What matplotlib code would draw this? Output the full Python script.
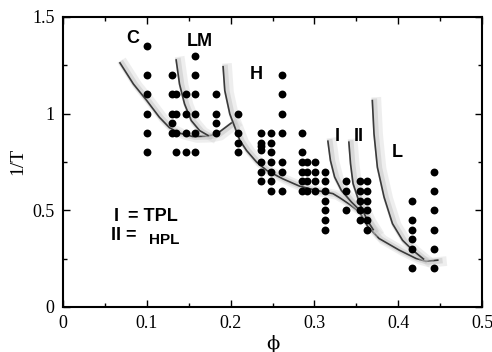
import matplotlib
matplotlib.use("Agg")
import matplotlib.pyplot as plt
import matplotlib.patheffects as pe
from matplotlib.ticker import MultipleLocator

# simulation state points, grouped by volume fraction column
phi_cols = [0.100, 0.130, 0.135, 0.147, 0.157, 0.182, 0.209, 0.236, 0.248, 0.261,
            0.285, 0.291, 0.301, 0.312, 0.338, 0.354, 0.363, 0.416, 0.442]
invT_cols = [
    [0.8, 0.9, 1.0, 1.1, 1.2, 1.35],
    [0.9, 0.95, 1.0, 1.1, 1.2],
    [0.8, 0.9, 1.0, 1.1],
    [0.8, 0.9, 1.0, 1.1],
    [0.8, 0.9, 1.0, 1.1, 1.2, 1.3],
    [0.9, 0.95, 1.0, 1.1],
    [0.8, 0.85, 0.9, 1.0],
    [0.65, 0.7, 0.75, 0.81, 0.83, 0.85, 0.9],
    [0.6, 0.65, 0.7, 0.75, 0.8, 0.85, 0.9],
    [0.6, 0.7, 0.75, 0.9, 1.0, 1.1, 1.2],
    [0.6, 0.65, 0.7, 0.75, 0.8, 0.9],
    [0.6, 0.65, 0.7, 0.75],
    [0.6, 0.65, 0.7, 0.75],
    [0.4, 0.45, 0.5, 0.55, 0.6, 0.65, 0.7],
    [0.5, 0.6, 0.65],
    [0.45, 0.5, 0.55, 0.6, 0.65],
    [0.4, 0.45, 0.5, 0.55, 0.6, 0.65],
    [0.2, 0.3, 0.35, 0.4, 0.45, 0.55],
    [0.2, 0.3, 0.4, 0.5, 0.6, 0.7],
]

# phase boundaries
c_phi = [0.068, 0.084, 0.100, 0.115, 0.127, 0.139, 0.155, 0.171, 0.183, 0.201]
c_invT = [1.262, 1.153, 1.067, 0.981, 0.927, 0.899, 0.881, 0.883, 0.893, 0.952]
lm_phi = [0.135, 0.139, 0.145, 0.153, 0.163, 0.173]
lm_invT = [1.277, 1.153, 1.050, 0.964, 0.912, 0.887]
h_phi = [0.191, 0.193, 0.199, 0.211, 0.219, 0.231, 0.243, 0.262, 0.282, 0.302,
         0.322, 0.330, 0.342, 0.354, 0.363, 0.377, 0.401, 0.421, 0.433, 0.447]
h_invT = [1.242, 1.119, 0.998, 0.861, 0.809, 0.749, 0.706, 0.663, 0.625, 0.603,
          0.586, 0.565, 0.530, 0.490, 0.420, 0.354, 0.294, 0.251, 0.236, 0.242]
i_phi = [0.316, 0.319, 0.324, 0.332, 0.344, 0.354]
i_invT = [0.857, 0.758, 0.672, 0.603, 0.543, 0.500]
ii_phi = [0.341, 0.343, 0.346, 0.354, 0.363, 0.370]
ii_invT = [0.852, 0.741, 0.638, 0.534, 0.448, 0.400]
l_phi = [0.369, 0.371, 0.375, 0.383, 0.393, 0.405, 0.417, 0.430]
l_invT = [1.067, 0.895, 0.723, 0.568, 0.431, 0.345, 0.294, 0.248]

xs, ys = [], []
for p, col in zip(phi_cols, invT_cols):
    xs += [p] * len(col)
    ys += col

fig = plt.figure(figsize=(4.92, 3.52), dpi=100)
ax = fig.add_axes([0.128, 0.128, 0.852, 0.824])

# soft grey halo, mostly to the right of each boundary
shadow = [pe.SimpleLineShadow(offset=(3, -1), shadow_color="0.82", alpha=0.35, linewidth=7),
          pe.SimpleLineShadow(offset=(1.5, -0.5), shadow_color="0.75", alpha=0.45, linewidth=4),
          pe.Normal()]
for px, py in [(c_phi, c_invT), (lm_phi, lm_invT), (h_phi, h_invT),
               (i_phi, i_invT), (ii_phi, ii_invT), (l_phi, l_invT)]:
    ax.plot(px, py, color="#3a3a3a", lw=1.2, path_effects=shadow, zorder=2)

ax.scatter(xs, ys, s=32, color="black", zorder=3, linewidths=0)

lab = dict(family="Liberation Sans", weight="bold", fontsize=13, ha="center", va="center")
ax.text(0.083, 1.39, "C", **lab)
ax.text(0.163, 1.375, "LM", **lab)
ax.text(0.230, 1.20, "H", **lab)
ax.text(0.327, 0.88, "I", **lab)
ax.text(0.353, 0.88, "II", **lab)
ax.text(0.399, 0.80, "L", **lab)

leg = dict(family="Liberation Sans", weight="bold", va="center")
ax.text(0.060, 0.47, "I", fontsize=13, **leg)
ax.text(0.077, 0.47, "= TPL", fontsize=13, **leg)
ax.text(0.057, 0.37, "II =", fontsize=13, **leg)
ax.text(0.103, 0.345, "HPL", fontsize=11, **leg)

ax.set_xlim(0, 0.5)
ax.set_ylim(0, 1.5)
ax.xaxis.set_major_locator(MultipleLocator(0.1))
ax.xaxis.set_minor_locator(MultipleLocator(0.05))
ax.yaxis.set_major_locator(MultipleLocator(0.5))
ax.yaxis.set_minor_locator(MultipleLocator(0.25))
ax.set_xticks([0, 0.1, 0.2, 0.3, 0.4, 0.5], ["0", "0.1", "0.2", "0.3", "0.4", "0.5"])
ax.set_yticks([0, 0.5, 1.0, 1.5], ["0", "0.5", "1", "1.5"])
ax.tick_params(which="both", direction="in", top=True, right=True, width=1)
ax.tick_params(which="major", length=5, labelsize=13, pad=6)
ax.tick_params(which="minor", length=3)
for t in ax.get_xticklabels() + ax.get_yticklabels():
    t.set_family("Liberation Serif")
for s in ax.spines.values():
    s.set_linewidth(1.5)

ax.set_xlabel("ϕ", family="DejaVu Serif", fontsize=14, labelpad=2)
ax.set_ylabel("1/T", family="Liberation Serif", fontsize=14, labelpad=4)

fig.savefig("out.png", dpi=100)
